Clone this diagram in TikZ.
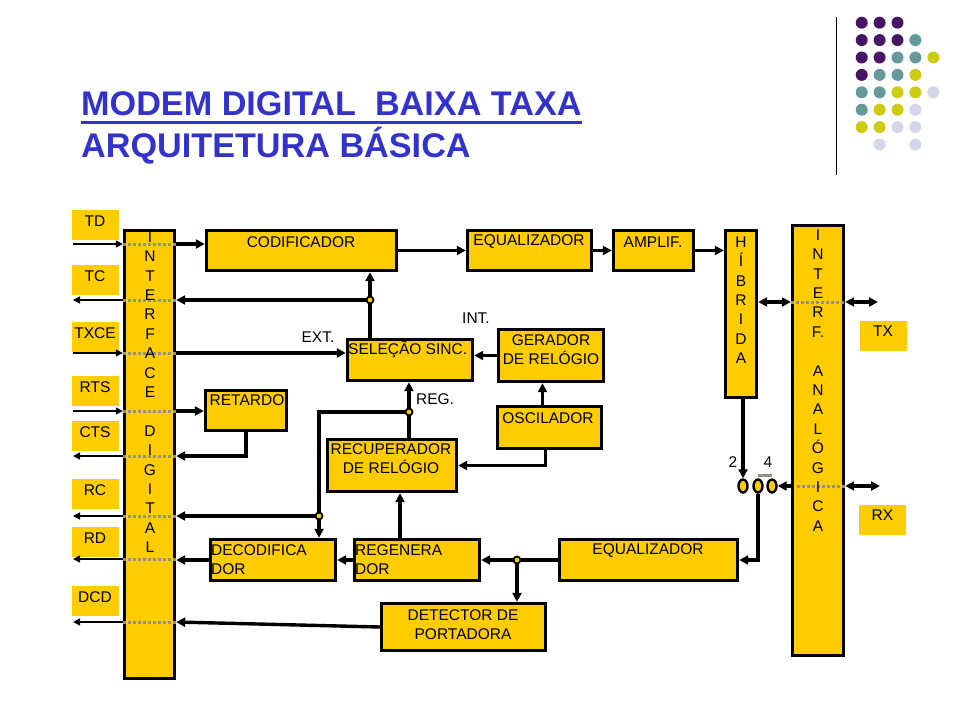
\documentclass[tikz,border=0pt]{standalone}
\usepackage{fontspec}
\setmainfont{Liberation Sans}
\usepackage{xcolor}
\usetikzlibrary{arrows.meta, fit, positioning, shapes.geometric}

\definecolor{modemyellow}{RGB}{255,204,0}
\definecolor{titleblue}{RGB}{51,51,204}
\definecolor{dotgray}{RGB}{145,145,135}
\definecolor{dp}{RGB}{70,22,100}
\definecolor{dt}{RGB}{102,153,153}
\definecolor{dy}{RGB}{204,204,20}
\definecolor{dl}{RGB}{214,214,234}

\begin{document}
\begin{tikzpicture}[x=1pt, y=-1pt,
    blk/.style={draw, line width=3.4pt, fill=modemyellow, inner sep=0pt},
    sigbox/.style={fill=modemyellow, minimum width=47pt, minimum height=30pt, inner sep=0pt},
    lbl/.style={font=\fontsize{15.5}{19.4}\selectfont, inner sep=0pt},
    wire/.style={line width=3.4pt, -{Triangle[length=9pt,width=9pt]}},
    twoway/.style={line width=3.4pt, {Triangle[length=9pt,width=9pt]}-{Triangle[length=9pt,width=9pt]}},
    sigin/.style={line width=1.5pt, -{Triangle[length=7pt,width=7pt]}},
    sigout/.style={line width=1.5pt, {Triangle[length=7pt,width=7pt]}-},
    dotrule/.style={dotgray, line width=3pt, dash pattern=on 3pt off 2pt},
    joint/.style={draw, line width=1.8pt, fill=modemyellow},
    tap/.style={ellipse, draw, line width=2.4pt, fill=modemyellow, minimum width=9pt, minimum height=13pt, inner sep=0pt}
  ]
  \fill[white] (0,0) rectangle (960,720);
  \useasboundingbox (0,0) rectangle (960,720);

  % title
  \node[anchor=base west, inner sep=0pt, text=titleblue, font=\fontsize{34.2}{40}\bfseries\selectfont] (ttlA) at (81,115) {MODEM DIGITAL\ \ BAIXA TAXA};
  \node[anchor=base west, inner sep=0pt, text=titleblue, font=\fontsize{34.2}{40}\bfseries\selectfont] (ttlB) at (81,157) {ARQUITETURA BÁSICA};
  \draw[titleblue, line width=2.8pt] ([yshift=-7.5pt]ttlA.base west) -- ([yshift=-7.5pt]ttlA.base east);

  % corner dots
  \draw[line width=1pt] (836,17) -- (836,175);
  \foreach \r/\cl in {0/{dp,dp,dp}, 1/{dp,dp,dp,dt}, 2/{dp,dp,dt,dt,dy}, 3/{dp,dt,dt,dy},
                      4/{dt,dt,dy,dy,dl}, 5/{dt,dy,dy,dl}, 6/{dy,dy,dl,dl}, 7/{white,dl,white,dl}}{
    \foreach \c [count=\i from 0] in \cl
      \fill[\c] (861.7+\i*17.9, 22.7+\r*17.4) circle (6pt);
  }

  % blocks
  \node[blk, fit={(124.5,230.5) (174.5,678.5)}] (intd) {};
  \node[blk, fit={(206.5,230.5) (396.5,270.5)}] (cod) {};
  \node[blk, fit={(467.5,230.5) (591.5,270.5)}] (eqt) {};
  \node[blk, fit={(613.5,230.5) (693.5,270.5)}] (amp) {};
  \node[blk, fit={(725.5,230.5) (756.5,397.5)}] (hib) {};
  \node[blk, fit={(792.5,225.5) (843.5,655.5)}] (inta) {};
  \node[blk, fit={(347.5,339.5) (472.5,380.5)}] (sel) {};
  \node[blk, fit={(498.5,329.5) (603.5,381.5)}] (ger) {};
  \node[blk, fit={(205.5,390.5) (286.5,430.5)}] (ret) {};
  \node[blk, fit={(497.5,406.5) (601.5,448.5)}] (osc) {};
  \node[blk, fit={(327.5,439.5) (456.5,491.5)}] (rec) {};
  \node[blk, fit={(210.5,539.5) (335.5,580.5)}] (dec) {};
  \node[blk, fit={(354.5,539.5) (479.5,580.5)}] (reg) {};
  \node[blk, fit={(559.5,539.5) (737.5,580.5)}] (eqb) {};
  \node[blk, fit={(381.5,603.5) (545.5,650.5)}] (det) {};

  % digital side signals
  \foreach \name/\ytop/\yline/\dir in {TD/210/244/sigin, TC/265/300/sigout, TXCE/322/353/sigin,
      RTS/376/411/sigin, CTS/421/456/sigout, RC/479/516/sigout, RD/527/559/sigout, DCD/586/622/sigout}{
    \node[sigbox] (s\name) at (95,\ytop+15) {};
    \node[lbl, anchor=north, below=5.5pt of s\name.north] (l\name) {\name};
    \coordinate (e\name) at (73,\yline);
    \draw[\dir] (e\name) -- (intd.west |- e\name);
    \draw[dotrule] (intd.west |- e\name) -- (intd.east |- e\name);
  }

  % analog side signals
  \node[sigbox] (sTX) at (883,335.5) {};
  \node[lbl, below=5.5pt of sTX.north] (lTX) {TX};
  \node[sigbox] (sRX) at (882.5,519.5) {};
  \node[lbl, below=5.5pt of sRX.north] (lRX) {RX};
  \coordinate (eTX) at (878,302);
  \coordinate (eRX) at (880,486);
  \draw[dotrule] (inta.west |- eTX) -- (inta.east |- eTX);
  \draw[dotrule] (797,486) -- (inta.east |- eRX);

  % block texts
  \node[lbl] (tcod) at (301,242) {CODIFICADOR};
  \node[lbl] (teqt) at (529,242) {EQUALIZADOR};
  \node[lbl] (tamp) at (653,242) {AMPLIF.};
  \node[lbl, anchor=west] (tsel) at (348,349) {SELEÇÃO SINC.};
  \node[lbl, align=center, anchor=north] (tger) at (551,334) {GERADOR\\DE RELÓGIO};
  \node[lbl] (tret) at (247,400) {RETARDO};
  \node[lbl] (tosc) at (548,418) {OSCILADOR};
  \node[lbl, align=center, anchor=north] (trec) at (391,443) {RECUPERADOR\\DE RELÓGIO};
  \node[lbl, align=left, anchor=north west] (tdec) at (211,544.5) {DECODIFICA\\DOR};
  \node[lbl, align=left, anchor=north west] (treg) at (355,544.5) {REGENERA\\DOR};
  \node[lbl] (teqb) at (648,551) {EQUALIZADOR};
  \node[lbl, align=center, anchor=north] (tdet) at (463,609) {DETECTOR DE\\PORTADORA};
  \node[lbl, align=center, anchor=north] (tintd) at (150,231.5) {I\\N\\T\\E\\R\\F\\A\\C\\E\\[19.4pt]D\\I\\G\\I\\T\\A\\L};
  \node[lbl, align=center, anchor=north] (thib) at (741,236.5) {H\\Í\\B\\R\\I\\D\\A};
  \node[lbl, align=center, anchor=north] (tinta) at (818,229.5) {I\\N\\T\\E\\R\\F.\\[19.3pt]A\\N\\A\\L\\Ó\\G\\I\\C\\A};
  \node[lbl] (text) at (318,337) {EXT.};
  \node[lbl] (tint) at (476,318) {INT.};
  \node[lbl] (treg2) at (435,399) {REG.};
  \node[lbl] (ttwo) at (733,462) {2};
  \node[lbl] (tfour) at (768,462) {4};

  % junctions
  \coordinate (j1) at (370,300);
  \coordinate (j2) at (409,412);
  \coordinate (j3) at (319,516);
  \coordinate (j4) at (517,560);

  % transmit path
  \draw[wire] (intd.east |- eTD) -- (cod.west |- eTD);
  \draw[wire] (cod.east) -- (eqt.west);
  \draw[wire] (eqt.east) -- (amp.west);
  \draw[wire] (amp.east) -- (hib.west |- amp.east);
  \draw[twoway] (hib.east |- eTX) -- (inta.west |- eTX);
  \draw[twoway] (inta.east |- eTX) -- (eTX);

  % clock selection
  \draw[wire] (sel.north -| j1) -- (cod.south -| j1);
  \draw[wire] (j1) -- (intd.east |- j1);
  \draw[wire] (intd.east |- eTXCE) -- (sel.west |- eTXCE);
  \draw[wire] (ger.west) -- (sel.east |- ger.west);
  \draw[wire] ([xshift=-7pt]osc.north) -- ([xshift=-7pt]osc.north |- ger.south);
  \draw[wire] ([xshift=-4pt]osc.south) |- (rec.east);
  \draw[wire] (rec.north -| j2) -- (sel.south -| j2);
  \draw[wire] (j2) -- (j3 |- j2) -- (dec.north -| j3);
  \draw[wire] (j3) -- (intd.east |- j3);

  % delay
  \draw[wire] (intd.east |- eRTS) -- (ret.west |- eRTS);
  \draw[wire] (ret.south) |- (intd.east |- eCTS);

  % receive path
  \node[tap] (sw1) at (743,486) {};
  \node[tap] (sw2) at (758,486) {};
  \node[tap] (sw3) at (772,486) {};
  \draw[dotgray, line width=2.5pt] ([yshift=3pt]sw2.north) -- ([yshift=3pt]sw3.north);
  \draw[wire] (sw1 |- hib.south) -- (sw1.north);
  \draw[wire] (inta.west |- sw3) -- (sw3.east);
  \draw[twoway] (inta.east |- eRX) -- (eRX);
  \draw[wire] (sw2.south) |- (eqb.east);
  \draw[wire] (eqb.west) -- (reg.east);
  \draw[wire] (j4) -- (det.north -| j4);
  \draw[wire] ([xshift=8pt]rec.south |- reg.north) -- ([xshift=8pt]rec.south);
  \draw[wire] (reg.west) -- (dec.east |- reg.west);
  \draw[wire] (dec.west) -- (intd.east |- dec.west);
  \draw[wire] (det.west) -- (intd.east |- eDCD);

  \foreach \j in {j1,j2,j3,j4}
    \draw[joint] (\j) circle (3.5pt);
\end{tikzpicture}
\end{document}
